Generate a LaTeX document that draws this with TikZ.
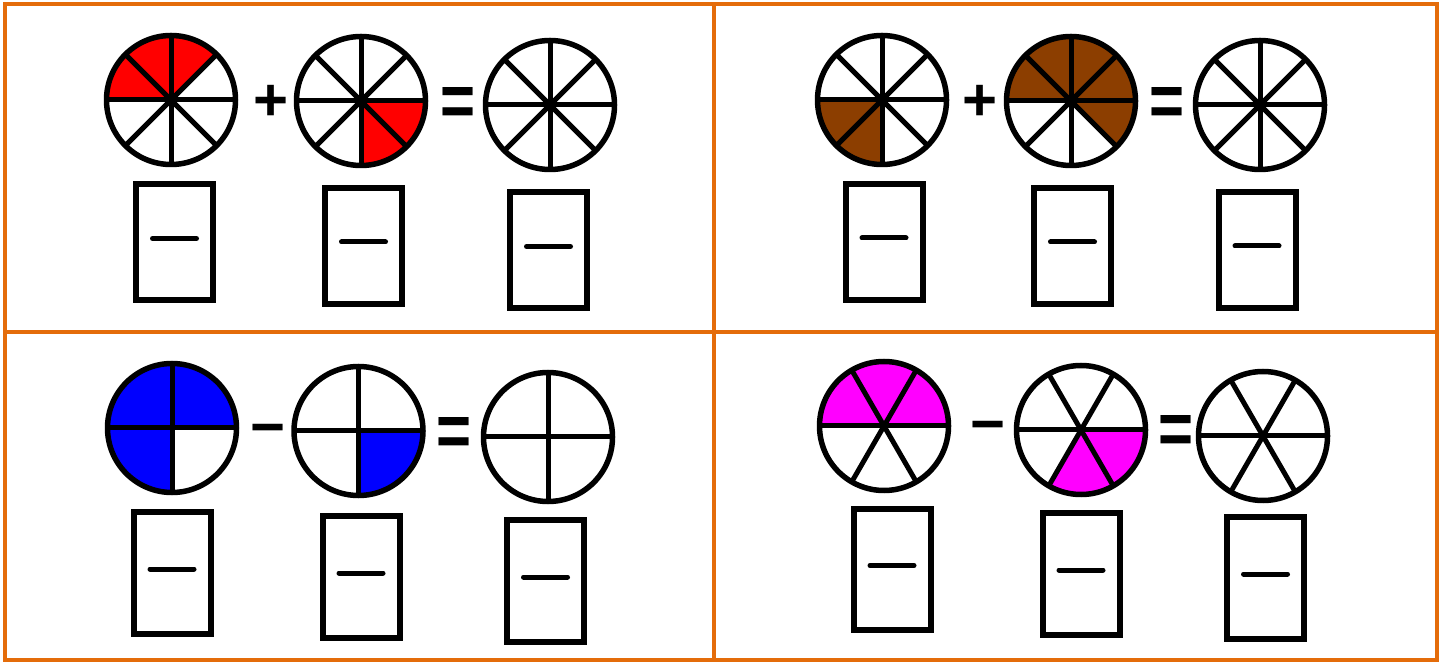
\documentclass[tikz,border=0pt]{standalone}
\usepackage{fontspec}
\setmainfont{Liberation Sans}
\usepackage{xcolor}
\usepackage{graphicx}
\usepackage{tikz}
\definecolor{framecolor}{RGB}{228,108,10}
\definecolor{piered}{RGB}{255,0,0}
\definecolor{piebrown}{RGB}{140,62,0}
\definecolor{pieblue}{RGB}{0,0,255}
\definecolor{piemagenta}{RGB}{255,0,255}

% radius of the fraction circles
\newcommand{\pieR}{64.5}
% name, centre, parts, first angle, last angle, fill colour
\newcommand{\fracpie}[6]{%
  \coordinate (#1) at (#2);
  \path[fill=#6] (#1) -- ++(#4:\pieR) arc[start angle=#4, end angle=#5, radius=\pieR] -- cycle;
  \foreach \k in {1,...,#3} {\draw[spoke] (#1) -- ++({360*\k/#3}:\pieR);}
  \draw[rim] (#1) circle[radius=\pieR];
}

\begin{document}
\begin{tikzpicture}[
  x=1pt, y=1pt,
  spoke/.style={line width=5pt},
  rim/.style={line width=5.5pt},
  ansbox/.style={draw, line width=6pt, minimum width=77pt, inner sep=0pt},
  fracbar/.style={line width=5pt, line cap=round},
  opsign/.style={font=\fontsize{60}{60}\selectfont\bfseries, inner sep=0pt, anchor=base, yshift=-20pt},
  eqsign/.style={opsign, yshift=-4pt},
  frameline/.style={draw=framecolor, line width=4.5pt}
]
\useasboundingbox (0,0) rectangle (1442,664);

% frame
\draw[frameline] (5,4) rectangle (1437,660);
\draw[frameline] (714,4) -- (714,660);
\draw[frameline] (5,332) -- (1437,332);

% top left
\fracpie{c11}{171,564}{8}{45}{180}{piered}
\fracpie{c12}{361,563}{8}{-90}{0}{piered}
\fracpie{c13}{550,559}{8}{0}{0}{none}
\node[opsign] (plus1) at (271,563) {+};
\node[eqsign] (eq1) at (458,561) {\scalebox{1}[1.25]{=}};

% top right
\fracpie{c21}{882,564}{8}{180}{270}{piebrown}
\fracpie{c22}{1071,563}{8}{-45}{180}{piebrown}
\fracpie{c23}{1260,559}{8}{0}{0}{none}
\node[opsign] (plus2) at (980,563) {+};
\node[eqsign] (eq2) at (1167,561) {\scalebox{1}[1.25]{=}};

% bottom left
\fracpie{c31}{172,236}{4}{0}{270}{pieblue}
\fracpie{c32}{358.5,233}{4}{-90}{0}{pieblue}
\fracpie{c33}{548,227}{4}{0}{0}{none}
\node[opsign] (minus3) at (268,236) {−};
\node[eqsign] (eq3) at (454,231) {\scalebox{1}[1.25]{=}};

% bottom right
\fracpie{c41}{884,238}{6}{0}{180}{piemagenta}
\fracpie{c42}{1081,234}{6}{-120}{0}{piemagenta}
\fracpie{c43}{1263,228}{6}{0}{0}{none}
\node[opsign] (minus4) at (988,239) {−};
\node[eqsign] (eq4) at (1176,233) {\scalebox{1}[1.25]{=}};

% answer boxes
\foreach \n/\x/\y/\h in {b11/174.5/421.5/116, b12/363.5/418/116, b13/548.5/413.5/116,
    b21/884/422/116, b22/1072.5/418/116, b23/1257/414/116,
    b31/172/91/121, b32/361/87/121, b33/545.5/83/121,
    b41/892/94.5/121, b42/1081/90/121, b43/1265.5/86/121} {
  \node[ansbox, minimum height=\h pt] (\n) at (\x,\y) {};
  \draw[fracbar] ([shift={(-22,4)}]\n.center) -- ([shift={(22,4)}]\n.center);
}
\end{tikzpicture}
\end{document}
